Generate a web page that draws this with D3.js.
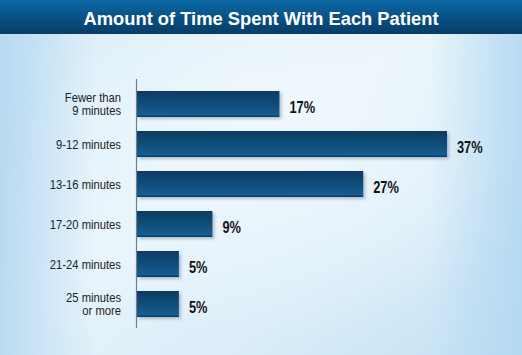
<!DOCTYPE html>
<html>
<head>
<meta charset="utf-8">
<script src="https://cdn.jsdelivr.net/npm/d3@7"></script>
<style>
  body { margin: 0; padding: 0; }
  svg { display: block; }
</style>
</head>
<body>
<div id="canvas"></div>
<script>
// Chart data.
const categories = [
  ["Fewer than", "9 minutes"],
  ["9-12 minutes"],
  ["13-16 minutes"],
  ["17-20 minutes"],
  ["21-24 minutes"],
  ["25 minutes", "or more"]
];
const shares = [17, 37, 27, 9, 5, 5];
const title = "Amount of Time Spent With Each Patient";

// Canvas size and plot box.
const w = 522, h = 355;
const plotLeft = 137, plotRight = 447, plotTop = 84, plotBottom = 324;

// The original uses a condensed face; squeeze a regular one horizontally.
const SQUEEZE_VALUE = 0.8, SQUEEZE_CAT = 0.9;
// Gap between the two lines of a wrapped category label.
const LINE_STEP = 13.5;

const svg = d3.select("#canvas")
    .append("svg")
    .attr("width", w)
    .attr("height", h);

const defs = svg.append("defs");

// Light blue page background.
const bg = defs.append("linearGradient").attr("id", "bg")
    .attr("x1", 0).attr("y1", 0).attr("x2", 1).attr("y2", 1);
bg.append("stop").attr("offset", "0").attr("stop-color", "#cfe7f6");
bg.append("stop").attr("offset", "0.45").attr("stop-color", "#e8f4fb");
bg.append("stop").attr("offset", "0.7").attr("stop-color", "#dceef9");
bg.append("stop").attr("offset", "1").attr("stop-color", "#c2e0f3");

const glow = defs.append("radialGradient").attr("id", "glow")
    .attr("cx", 0.5).attr("cy", 0.35).attr("r", 0.6);
glow.append("stop").attr("offset", "0").attr("stop-color", "#f2f9fd").attr("stop-opacity", 0.8);
glow.append("stop").attr("offset", "1").attr("stop-color", "#f2f9fd").attr("stop-opacity", 0);

const edge = defs.append("linearGradient").attr("id", "edge")
    .attr("x1", 0).attr("y1", 0).attr("x2", 1).attr("y2", 0);
edge.append("stop").attr("offset", "0").attr("stop-color", "#b3d8f1").attr("stop-opacity", 0.9);
edge.append("stop").attr("offset", "0.18").attr("stop-color", "#b3d8f1").attr("stop-opacity", 0);
edge.append("stop").attr("offset", "0.82").attr("stop-color", "#b3d8f1").attr("stop-opacity", 0);
edge.append("stop").attr("offset", "1").attr("stop-color", "#b3d8f1").attr("stop-opacity", 0.9);

// Title band.
const band = defs.append("linearGradient").attr("id", "band")
    .attr("x1", 0).attr("y1", 0).attr("x2", 0).attr("y2", 1);
band.append("stop").attr("offset", "0").attr("stop-color", "#0b68a5");
band.append("stop").attr("offset", "1").attr("stop-color", "#073c66");

// Bar fill.
const barFill = defs.append("linearGradient").attr("id", "barFill")
    .attr("x1", 0).attr("y1", 0).attr("x2", 0).attr("y2", 1);
barFill.append("stop").attr("offset", "0").attr("stop-color", "#093b61");
barFill.append("stop").attr("offset", "0.9").attr("stop-color", "#155c8f");
barFill.append("stop").attr("offset", "1").attr("stop-color", "#0a3a5e");

const shadow = defs.append("filter").attr("id", "shadow")
    .attr("x", "-10%").attr("y", "-20%").attr("width", "130%").attr("height", "160%");
shadow.append("feDropShadow")
    .attr("dx", 2).attr("dy", 2).attr("stdDeviation", 1.5)
    .attr("flood-color", "#3a5a74").attr("flood-opacity", 0.35);

svg.append("rect").attr("width", w).attr("height", h).attr("fill", "url(#bg)");
svg.append("rect").attr("width", w).attr("height", h).attr("fill", "url(#glow)");
svg.append("rect").attr("width", w).attr("height", h).attr("fill", "url(#edge)");

svg.append("rect").attr("width", w).attr("height", 34).attr("fill", "url(#band)");
svg.append("text")
    .attr("x", w / 2)
    .attr("y", 25)
    .attr("text-anchor", "middle")
    .attr("fill", "#ffffff")
    .attr("font-family", "'Liberation Sans', Arial, sans-serif")
    .attr("font-weight", "bold")
    .attr("font-size", 18)
    .attr("textLength", 355)
    .attr("lengthAdjust", "spacingAndGlyphs")
    .text(title);

// Scales.
const xScale = d3.scaleLinear()
    .domain([0, d3.max(shares)])
    .range([plotLeft, plotRight]);

const yScale = d3.scaleBand()
    .domain(d3.range(categories.length))
    .range([plotTop, plotBottom])
    .paddingInner(0.35)
    .paddingOuter(0.175);

// Bars.
svg.selectAll("rect.bar")
    .data(shares)
    .enter()
    .append("rect")
    .attr("class", "bar")
    .attr("x", xScale(0))
    .attr("y", (d, i) => yScale(i))
    .attr("width", d => xScale(d) - xScale(0))
    .attr("height", yScale.bandwidth())
    .attr("fill", "url(#barFill)")
    .attr("filter", "url(#shadow)");

// Value labels.
svg.selectAll("text.value")
    .data(shares)
    .enter()
    .append("text")
    .attr("class", "value")
    .attr("transform", (d, i) =>
        `translate(${xScale(d) + 10},${yScale(i) + yScale.bandwidth() / 2 + 8.5}) scale(${SQUEEZE_VALUE},1)`)
    .attr("fill", "#111111")
    .attr("font-family", "'Liberation Sans', Arial, sans-serif")
    .attr("font-weight", "bold")
    .attr("font-size", 16)
    .text(d => d + "%");

// Category axis.
const yAxis = d3.axisLeft(yScale).tickSize(0).tickFormat("");
const axisG = svg.append("g")
    .attr("transform", `translate(${plotLeft - 0.5},0)`)
    .call(yAxis);
axisG.select(".domain")
    .attr("d", `M0,${plotTop - 5}V${plotBottom + 4}`)
    .attr("stroke", "#6e7f8c")
    .attr("stroke-width", 1.2);

// Category labels, one or two lines each.
const catLabels = svg.selectAll("text.cat")
    .data(categories)
    .enter()
    .append("text")
    .attr("class", "cat")
    .attr("text-anchor", "end")
    .attr("fill", "#222222")
    .attr("font-family", "'Liberation Sans', Arial, sans-serif")
    .attr("font-size", 12.5)
    .attr("transform", (d, i) =>
        `translate(121,${yScale(i) + yScale.bandwidth() / 2 + 4.5 - (d.length - 1) * LINE_STEP / 2}) scale(${SQUEEZE_CAT},1)`);

catLabels.selectAll("tspan")
    .data(d => d)
    .enter()
    .append("tspan")
    .attr("x", 0)
    .attr("dy", (d, j) => j === 0 ? 0 : LINE_STEP)
    .text(d => d);
</script>
</body>
</html>
